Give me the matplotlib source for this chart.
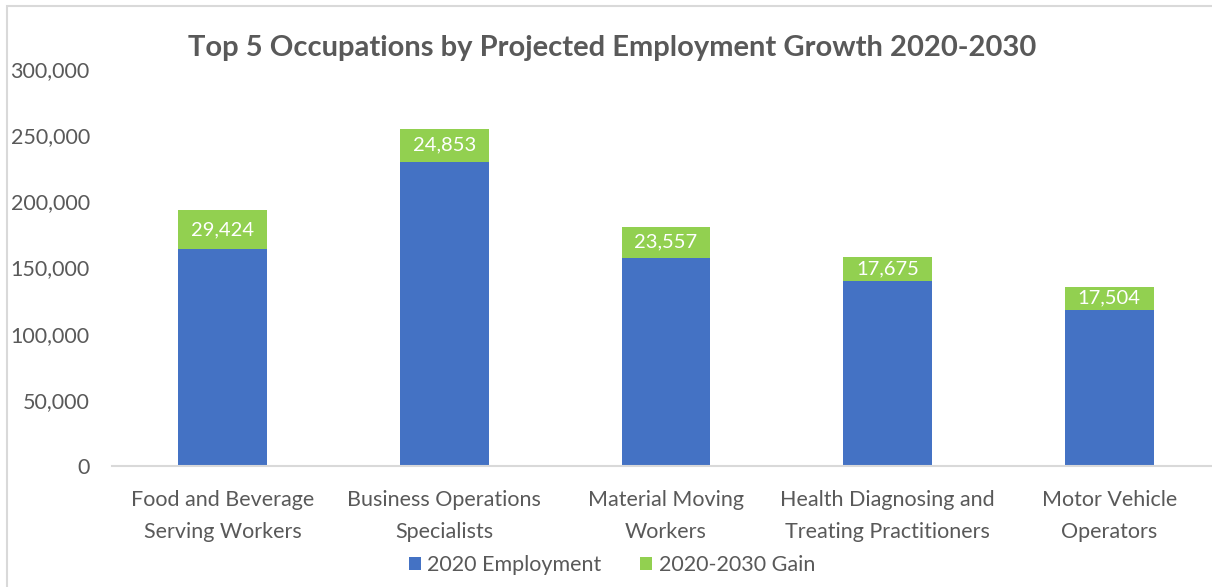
import matplotlib.pyplot as plt
from matplotlib.patches import Rectangle

plt.rcParams['font.family'] = ['Lato', 'DejaVu Sans']

occupations = ['Food and Beverage\nServing Workers', 'Business Operations\nSpecialists',
               'Material Moving\nWorkers', 'Health Diagnosing and\nTreating Practitioners',
               'Motor Vehicle\nOperators']
employment_2020 = [163700, 230000, 157400, 140000, 118000]
gain_2020_2030 = [29424, 24853, 23557, 17675, 17504]
yticks = [0, 50000, 100000, 150000, 200000, 250000, 300000]

blue = '#4472C4'
green = '#92D050'
grey = '#595959'

fig = plt.figure(figsize=(12.12, 5.87), dpi=100)
ax = fig.add_axes([0.0924, 0.2061, 0.9142, 0.6763])

x = range(len(occupations))
ax.bar(x, employment_2020, width=0.4, color=blue, label='2020 Employment')
bars = ax.bar(x, gain_2020_2030, width=0.4, bottom=employment_2020, color=green,
              label='2020-2030 Gain')
for rect, g in zip(bars, gain_2020_2030):
    ax.text(rect.get_x() + rect.get_width() / 2, rect.get_y() + rect.get_height() / 2,
            f'{g:,}', ha='center', va='center', color='white', fontsize=14.5)

ax.set_xlim(-0.5, 4.5)
ax.set_ylim(0, 300000)
ax.set_yticks(yticks)
ax.set_yticklabels([f'{v:,}' for v in yticks])
ax.set_xticks(list(x))
ax.set_xticklabels(occupations, linespacing=1.75)
ax.tick_params(axis='both', length=0, colors=grey, labelsize=15.5)
ax.tick_params(axis='x', pad=17)
ax.tick_params(axis='y', pad=16)
for side in ['top', 'right', 'left']:
    ax.spines[side].set_visible(False)
ax.spines['bottom'].set_color('#D9D9D9')
ax.spines['bottom'].set_linewidth(1.5)

fig.text(0.505, 0.918, 'Top 5 Occupations by Projected Employment Growth 2020-2030',
         ha='center', va='center', fontsize=21, fontweight='bold', color=grey)

fig.legend(loc='center', bbox_to_anchor=(0.505, 0.037), ncol=2, frameon=False,
           fontsize=15.5, handlelength=0.55, handleheight=0.55, handletextpad=0.3,
           columnspacing=1.8, labelcolor=grey)

# chart area outline
fig.patches.append(Rectangle((7 / 1212, -0.1), 1.2, 1.1 - 6 / 587, transform=fig.transFigure,
                             fill=False, edgecolor='#D9D9D9', linewidth=1.5))

fig.savefig('out.png', dpi=100)
